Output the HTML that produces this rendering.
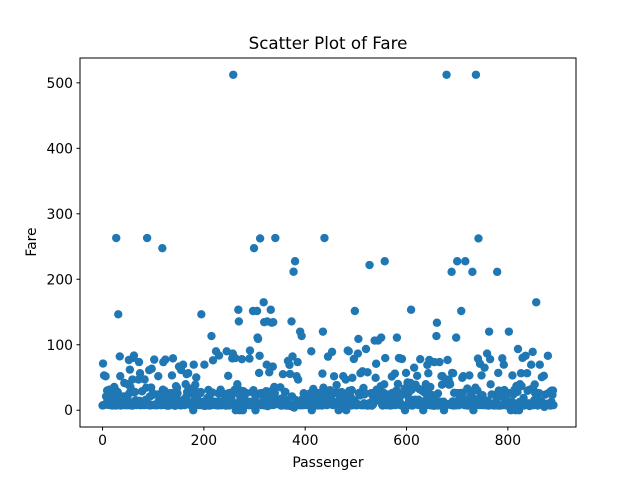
<!DOCTYPE html>
<html><head><meta charset="utf-8"><style>
body{margin:0;background:#fff;}
svg{display:block;font-family:"DejaVu Sans","Liberation Sans",sans-serif;}
</style></head><body>
<svg id="chart" width="640" height="480">
<rect width="640" height="480" fill="#fff"/>
<g id="points"></g>
<rect x="80" y="58" width="496" height="369" fill="none" stroke="#000" stroke-width="1"/>
<g id="xticks"></g>
<g id="yticks"></g>
<text x="328" y="49" text-anchor="middle" font-size="16.7">Scatter Plot of Fare</text>
<text x="328" y="467" text-anchor="middle" font-size="13.9">Passenger</text>
<text x="36" y="242" text-anchor="middle" font-size="13.9" transform="rotate(-90 36 242)">Fare</text>
</svg>
<script>
const xTicks=[0,200,400,600,800];
const yTicks=[0,100,200,300,400,500];
const fares=[7.25,71.2833,7.925,53.1,8.05,8.4583,51.8625,21.075,11.1333,30.0708,16.7,26.55,8.05,31.275,7.8542,16,29.125,13,18,7.225,26,13,8.0292,35.5,21.075,31.3875,7.225,263,7.8792,7.8958,27.7208,146.5208,7.75,10.5,82.1708,52,7.2292,8.05,18,11.2417,9.475,21,7.8958,41.5792,7.8792,8.05,15.5,7.75,21.6792,17.8,39.6875,7.8,76.7292,26,61.9792,35.5,10.5,7.2292,27.75,46.9,7.2292,80,83.475,27.9,27.7208,15.2458,10.5,8.1583,7.925,8.6625,10.5,46.9,73.5,14.4542,56.4958,7.65,7.8958,8.05,29,12.475,9,9.5,7.7875,47.1,10.5,15.85,34.375,8.05,263,8.05,8.05,7.8542,61.175,20.575,7.25,8.05,34.6542,63.3583,23,26,7.8958,7.8958,77.2875,8.6542,7.925,7.8958,7.65,7.775,7.8958,24.15,52,14.4542,8.05,9.825,14.4583,7.925,7.75,21,247.5208,31.275,73.5,8.05,30.0708,13,77.2875,11.2417,7.75,7.1417,22.3583,6.975,7.8958,7.05,14.5,26,13,15.0458,26.2833,53.1,9.2167,79.2,15.2458,7.75,15.85,6.75,11.5,36.75,7.7958,34.375,26,13,12.525,66.6,8.05,14.5,7.3125,61.3792,7.7333,8.05,8.6625,69.55,16.1,15.75,7.775,8.6625,39.6875,20.525,55,27.9,25.925,56.4958,33.5,29.125,11.1333,7.925,30.6958,7.8542,25.4667,28.7125,13,0,69.55,15.05,31.3875,39,22.025,50,15.5,26.55,15.5,7.8958,13,13,7.8542,26,27.7208,146.5208,7.75,8.4042,7.75,13,9.5,69.55,6.4958,7.225,8.05,10.4625,15.85,18.7875,7.75,31,7.05,21,7.25,13,7.75,113.275,7.925,27,76.2917,10.5,8.05,13,8.05,7.8958,90,9.35,10.5,7.25,13,25.4667,83.475,7.775,13.5,31.3875,10.5,7.55,26,26.25,10.5,12.275,14.4542,15.5,10.5,7.125,7.225,90,7.775,14.5,52.5542,26,7.25,10.4625,26.55,16.1,20.2125,15.2458,79.2,86.5,512.3292,26,7.75,31.3875,79.65,0,7.75,10.5,39.6875,7.775,153.4625,135.6333,31,0,19.5,29.7,7.75,77.9583,7.75,0,29.125,20.25,7.75,7.8542,9.5,8.05,26,8.6625,9.5,7.8958,13,7.75,78.85,91.0792,12.875,8.85,7.8958,27.7208,7.2292,151.55,30.5,247.5208,7.75,23.25,0,12.35,8.05,151.55,110.8833,108.9,24,56.9292,83.1583,262.375,26,7.8958,26.25,7.8542,26,14,164.8667,134.5,7.25,7.8958,12.35,29,69.55,135.6333,6.2375,13,20.525,57.9792,23.25,28.5,153.4625,18,133.65,7.8958,66.6,134.5,8.05,35.5,26,263,13,13,13,13,13,16.1,15.9,8.6625,9.225,35,7.2292,17.8,7.225,9.5,55,13,7.8792,7.8792,27.9,27.7208,14.4542,7.05,15.5,7.25,75.25,7.2292,7.75,69.3,55.4417,6.4958,8.05,135.6333,21.075,82.1708,7.25,211.5,4.0125,7.775,227.525,15.7417,7.925,52,7.8958,73.5,46.9,13,7.7292,12,120,7.7958,7.925,113.275,16.7,7.7958,7.8542,26,10.5,12.65,7.925,8.05,9.825,15.85,8.6625,21,7.75,18.75,7.775,25.4667,7.8958,6.8583,90,0,7.925,8.05,32.5,13,13,24.15,7.8958,7.7333,7.875,14.4,20.2125,7.25,26,26,7.75,8.05,26.55,16.1,26,7.125,55.9,120,34.375,18.75,263,10.5,26.25,9.5,7.775,13,8.1125,81.8583,19.5,26.55,19.2583,30.5,27.75,19.9667,27.75,89.1042,8.05,7.8958,26.55,51.8625,10.5,7.75,26.55,8.05,38.5,13,8.05,7.05,0,26.55,7.725,19.2583,7.25,8.6625,27.75,13.7917,9.8375,52,21,7.0458,7.5208,12.2875,46.9,0,8.05,9.5875,91.0792,25.4667,90,29.7,8.05,15.9,19.9667,7.25,30.5,49.5042,8.05,14.4583,78.2667,15.1,151.55,7.7958,8.6625,7.75,7.6292,9.5875,86.5,108.9,26,26.55,22.525,56.4958,7.75,8.05,26.2875,59.4,7.4958,34.0208,10.5,24.15,26,7.8958,93.5,7.8958,7.225,57.9792,7.2292,7.75,10.5,221.7792,7.925,11.5,26,7.2292,7.2292,22.3583,8.6625,26.25,26.55,106.425,14.5,49.5,71,31.275,31.275,26,106.425,26,26,13.8625,20.525,36.75,110.8833,26,7.8292,7.225,7.775,26.55,39.6,227.525,79.65,17.4,7.75,7.8958,13.5,8.05,8.05,24.15,7.8958,21.075,7.2292,7.8542,10.5,51.4792,26.3875,7.75,8.05,14.5,13,55.9,14.4583,7.925,30,110.8833,26,40.125,8.7125,79.65,15,79.2,8.05,8.05,7.125,78.2667,7.25,7.75,26,24.15,33,0,7.225,56.9292,27,7.8958,42.4,8.05,26.55,15.55,7.8958,30.5,41.5792,153.4625,31.275,7.05,15.5,7.75,8.05,65,14.4,16.1,39,10.5,14.4542,52.5542,15.7417,7.8542,16.1,32.3208,12.35,77.9583,7.8958,7.7333,30,7.0542,30.5,0,27.9,13,7.925,26.25,39.6875,16.1,7.8542,69.3,27.9,56.4958,19.2583,76.7292,7.8958,35.5,7.55,7.55,7.8958,23,8.4333,7.8292,6.75,73.5,7.8958,15.5,13,113.275,133.65,7.225,25.5875,7.4958,7.925,73.5,13,7.775,8.05,52,39,52,10.5,13,0,7.775,8.05,9.8417,46.9,512.3292,8.1375,76.7292,9.225,46.9,39,41.5792,39.6875,10.1708,7.7958,211.3375,57,13.4167,56.4958,7.225,26.55,13.5,8.05,7.7333,110.8833,7.65,227.525,26.2875,14.4542,7.7417,7.8542,26,13.5,26.2875,151.55,15.2458,49.5042,26.55,52,9.4833,13,7.65,227.525,10.5,15.5,7.775,33,7.0542,13,13,53.1,8.6625,21,7.7375,26,7.925,211.3375,18.7875,0,13,13,16.1,34.375,512.3292,7.8958,7.8958,30,78.85,262.375,16.1,7.925,71,20.25,13,53.1,7.75,23,12.475,9.5,7.8958,65,14.5,7.7958,11.5,8.05,86.5,14.5,7.125,7.2292,120,7.775,77.9583,39.6,7.75,24.15,8.3625,9.5,7.8542,10.5,7.225,23,7.75,7.75,12.475,7.7375,211.3375,7.2292,57,30,23.45,7.05,7.25,7.4958,29.125,20.575,79.2,7.75,26,69.55,30.6958,7.8958,13,25.9292,8.6833,7.2292,24.15,13,26.25,120,8.5167,6.975,7.775,0,7.775,13,53.1,7.8875,24.15,10.5,31.275,8.05,0,7.925,37.0042,6.45,27.9,93.5,8.6625,0,12.475,39.6875,6.95,56.4958,37.0042,7.75,80,14.4542,18.75,7.2292,7.8542,8.3,83.1583,8.6625,8.05,56.4958,29.7,7.925,10.5,31,6.4375,8.6625,7.55,69.55,7.8958,33,89.1042,31.275,7.775,15.2458,39.4,26,9.35,164.8667,26.55,19.2583,7.2292,14.1083,11.5,25.9292,69.55,13,13,13.8583,50.4958,9.5,11.1333,7.8958,52.5542,5,9,24,7.225,9.8458,7.8958,7.8958,83.1583,26,7.8958,10.5167,10.5,7.05,29.125,13,30,23.45,30,7.75];

const NS="http://www.w3.org/2000/svg";
const X0=80,X1=576,Y0=58,Y1=427;
const n=891;
const xmin=-(n-1)*0.05, xmax=(n-1)*1.05;
const fmax=Math.max(...fares), fmin=Math.min(...fares);
const ymin=fmin-(fmax-fmin)*0.05, ymax=fmax+(fmax-fmin)*0.05;
function sx(v){return X0+(v-xmin)/(xmax-xmin)*(X1-X0);}
function sy(v){return Y1-(v-ymin)/(ymax-ymin)*(Y1-Y0);}
const pts=document.getElementById('points');
fares.forEach((f,i)=>{
  const c=document.createElementNS(NS,'circle');
  c.setAttribute('cx',sx(i));c.setAttribute('cy',sy(f));c.setAttribute('r',4.2);
  c.setAttribute('fill','#1f77b4');
  
  
  pts.appendChild(c);
});
const xg=document.getElementById('xticks');
xTicks.forEach(t=>{
  const x=sx(t);
  const l=document.createElementNS(NS,'line');
  l.setAttribute('x1',x);l.setAttribute('x2',x);l.setAttribute('y1',Y1);l.setAttribute('y2',Y1+3.5);l.setAttribute('stroke','#000');
  
  
  xg.appendChild(l);
  const tx=document.createElementNS(NS,'text');
  tx.setAttribute('x',x);tx.setAttribute('y',Y1+18);tx.setAttribute('text-anchor','middle');tx.setAttribute('font-size','13.9');
  tx.textContent=t;
  
  
  xg.appendChild(tx);
});
const yg=document.getElementById('yticks');
yTicks.forEach(t=>{
  const y=sy(t);
  const l=document.createElementNS(NS,'line');
  l.setAttribute('x1',X0-3.5);l.setAttribute('x2',X0);l.setAttribute('y1',y);l.setAttribute('y2',y);l.setAttribute('stroke','#000');
  
  
  yg.appendChild(l);
  const tx=document.createElementNS(NS,'text');
  tx.setAttribute('x',X0-7);tx.setAttribute('y',y+5);tx.setAttribute('text-anchor','end');tx.setAttribute('font-size','13.9');
  tx.textContent=t;
  
  
  yg.appendChild(tx);
});
</script>
</body></html>
